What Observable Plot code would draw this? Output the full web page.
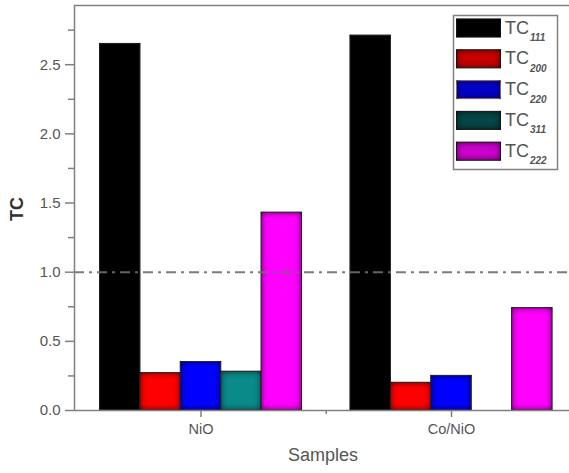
<!DOCTYPE html>
<html>
<head>
<meta charset="utf-8">
<script src="https://cdn.jsdelivr.net/npm/d3@7"></script>
<script src="https://cdn.jsdelivr.net/npm/@observablehq/plot@0.6"></script>
<style>
  html, body { margin: 0; padding: 0; background: #fff; }
  #chart { position: relative; width: 569px; height: 473px; overflow: hidden; }
</style>
</head>
<body>
<div id="chart"></div>
<script>
// Texture coefficients per sample and reflection plane
const samples = ["NiO", "Co/NiO"];
const planes = ["111", "200", "220", "311", "222"];
const tcNiO = [2.65, 0.27, 0.35, 0.28, 1.43];
const tcCoNiO = [2.71, 0.20, 0.25, null, 0.74];
const barColors = ["#000000", "#ff0000", "#0000ff", "#0a8a8a", "#ff00ff"];
const legendColors = ["#000000", "#c80000", "#0000c8", "#064646", "#cc00cc"];
const yTicks = [0, 0.5, 1.0, 1.5, 2.0, 2.5];
const yMinorTicks = [0.25, 0.75, 1.25, 1.75, 2.25, 2.75];
const xMinorTicks = [1.5];
const referenceTC = 1.0;

const values = [tcNiO, tcCoNiO];
const barWidth = 0.1613; // fraction of the sample spacing taken by one bar

const rows = samples.flatMap((sample, si) =>
  planes.map((plane, pi) => ({
    sample,
    plane,
    color: barColors[pi],
    tc: values[si][pi],
    x1: si + 1 + (pi - 2.5) * barWidth,
    x2: si + 1 + (pi - 1.5) * barWidth
  }))
).filter(d => d.tc != null);

const axisColor = "#808080";
const textColor = "#555";

const chart = Plot.plot({
  width: 569,
  height: 473,
  marginLeft: 74,
  marginRight: -2,
  marginTop: 5,
  marginBottom: 63,
  style: { fontFamily: "'Liberation Sans', Arial, sans-serif", color: textColor, background: "#fff" },
  x: { domain: [0.495, 2.479] },
  y: { domain: [0, 2.928] },
  marks: [
    Plot.rectY(rows, {
      x1: "x1", x2: "x2", y1: 0, y2: "tc",
      fill: "color",
      stroke: "#333",
      strokeWidth: 1
    }),
    Plot.ruleY([referenceTC], {
      stroke: "#6e6e6e",
      strokeWidth: 2,
      strokeDasharray: "10,5,3,5",
      strokeOpacity: 0.9
    }),
    Plot.frame({ stroke: axisColor, strokeWidth: 1.5 }),
    Plot.axisY({
      ticks: yTicks,
      tickSize: 9,
      tickPadding: 5,
      tickFormat: d3.format(".1f"),
      fontSize: 15,
      stroke: axisColor,
      strokeWidth: 1.5,
      label: null
    }),
    Plot.axisY({
      ticks: yMinorTicks,
      tickSize: 6,
      text: null,
      stroke: axisColor,
      strokeWidth: 1.5,
      label: null
    }),
    Plot.axisX({
      ticks: [1, 2],
      tickSize: 7,
      tickPadding: 6,
      tickFormat: d => samples[d - 1],
      fontSize: 14.5,
      stroke: axisColor,
      strokeWidth: 1.5,
      label: null
    }),
    Plot.axisX({
      ticks: xMinorTicks,
      tickSize: 4,
      text: null,
      stroke: axisColor,
      strokeWidth: 1.5,
      label: null
    }),
    Plot.text(["Samples"], {
      frameAnchor: "bottom", dy: 50, fontSize: 18, fill: textColor
    }),
    Plot.text(["TC"], {
      frameAnchor: "left", dx: -57, dy: 13, rotate: -90,
      fontSize: 18, fontWeight: "bold", fill: "#333"
    })
  ]
});

document.getElementById("chart").appendChild(chart);

// Bevel shading: a soft dark glow along the inside edge of each bar
const svg = d3.select(chart);
const defs = svg.insert("defs", ":first-child");
const filter = defs.append("filter")
  .attr("id", "bevel")
  .attr("filterUnits", "userSpaceOnUse")
  .attr("x", -100).attr("y", -100).attr("width", 1000).attr("height", 1000)
  .attr("color-interpolation-filters", "sRGB");
filter.append("feComponentTransfer").attr("in", "SourceAlpha").attr("result", "inv")
  .append("feFuncA").attr("type", "table").attr("tableValues", "1 0");
filter.append("feGaussianBlur").attr("in", "inv").attr("stdDeviation", 3.5).attr("result", "blur");
filter.append("feFlood").attr("flood-color", "#000").attr("flood-opacity", 0.8).attr("result", "ink");
filter.append("feComposite").attr("in", "ink").attr("in2", "blur").attr("operator", "in").attr("result", "shadow");
filter.append("feComposite").attr("in", "shadow").attr("in2", "SourceAlpha").attr("operator", "in").attr("result", "inner");
const merge = filter.append("feMerge");
merge.append("feMergeNode").attr("in", "SourceGraphic");
merge.append("feMergeNode").attr("in", "inner");

svg.selectAll("g[aria-label='rect'] rect").attr("filter", "url(#bevel)");

// Legend box in the upper-right corner of the frame
const legend = svg.append("g")
  .attr("font-family", "'Liberation Sans', Arial, sans-serif")
  .attr("text-anchor", "start");
legend.append("rect")
  .attr("x", 453.5).attr("y", 15.5).attr("width", 104).attr("height", 154)
  .attr("fill", "#fff").attr("stroke", axisColor).attr("stroke-width", 1.5);
planes.forEach((plane, i) => {
  const y0 = 19 + i * 30.8;
  const sw = legend.append("rect")
    .attr("x", 456.5).attr("y", y0).attr("width", 44).attr("height", 18)
    .attr("fill", legendColors[i]).attr("stroke", "#222").attr("stroke-width", 1)
    .attr("filter", "url(#bevel)");
  if (plane === "220") sw.attr("stroke", "#e89a9a");
  const t = legend.append("text")
    .attr("x", 505).attr("y", y0 + 14.5)
    .attr("text-anchor", "start")
    .attr("fill", textColor).attr("font-size", 18);
  t.append("tspan").text("TC");
  t.append("tspan")
    .attr("dy", 7.5).attr("dx", 1)
    .attr("font-size", 10).attr("font-weight", "bold").attr("font-style", "italic")
    .text(plane);
});
</script>
</body>
</html>
